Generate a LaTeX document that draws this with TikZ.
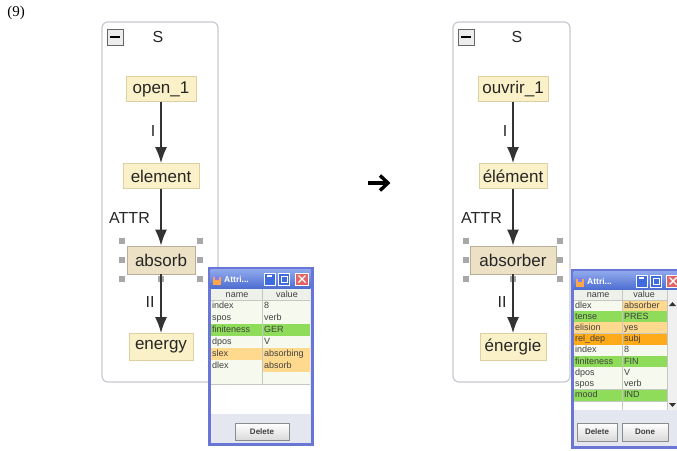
\documentclass[tikz,border=0pt]{standalone}
\usepackage{fontspec}
\setmainfont{Liberation Sans}
\newfontfamily\seriffont{Liberation Serif}
\usetikzlibrary{arrows.meta}

\definecolor{panelline}{HTML}{C8CAD2}
\definecolor{lexfill}{HTML}{FBF1C8}
\definecolor{lexline}{HTML}{DDD0A0}
\definecolor{selfill}{HTML}{EDE1C5}
\definecolor{selline}{HTML}{B8AE98}
\definecolor{handlefill}{HTML}{A8A8A8}
\definecolor{winframe}{HTML}{6A76D6}
\definecolor{bartop}{HTML}{8FA8EC}
\definecolor{barbot}{HTML}{4E6FD2}
\definecolor{btnblue}{HTML}{3E6BDD}
\definecolor{btnred}{HTML}{E26464}
\definecolor{rowW}{HTML}{F5F9EE}
\definecolor{grn}{HTML}{8EDC5A}
\definecolor{lor}{HTML}{FFD98E}
\definecolor{dor}{HTML}{FFAA18}
\definecolor{hdr}{HTML}{EEF0EA}
\definecolor{grid}{HTML}{C4C8C0}
\definecolor{btnpanel}{HTML}{E4E7EF}

\begin{document}
\begin{tikzpicture}[x=1pt,y=-1pt,
  panel/.style={draw=panelline, line width=1.2pt, rounded corners=6pt, fill=white},
  lex/.style={draw=lexline, line width=0.6pt, fill=lexfill, inner sep=0pt,
    font=\fontsize{17}{17}\selectfont, text=black!85},
  sel/.style={lex, fill=selfill, draw=selline},
  rel/.style={draw=black!80, line width=1.9pt, -{Latex[length=16pt,width=12pt]}},
  rellabel/.style={font=\fontsize{16}{16}\selectfont, text=black!85, inner sep=0pt},
  handle/.style={fill=handlefill, minimum size=5.5pt, inner sep=0pt},
  minusbox/.style={draw=black!60, fill=black!7, line width=0.8pt, minimum size=16pt, inner sep=0pt},
  cell/.style={font=\fontsize{9}{9}\selectfont, text=black!75, inner sep=0pt,
    text height=6.5pt, text depth=2pt},
  wintitle/.style={font=\bfseries\fontsize{8.5}{8.5}\selectfont, text=white, inner sep=0pt},
  btn/.style={draw=black!45, line width=0.5pt, top color=white, bottom color=black!15,
    font=\bfseries\fontsize{8}{8}\selectfont, text=black!75, inner sep=0pt},
  tbtn/.style={draw=white, line width=0.6pt, fill=btnblue, minimum width=11pt, minimum height=12pt, inner sep=0pt}
]
\useasboundingbox (0,0) rectangle (677,450);
\fill[white] (0,0) rectangle (677,450);

% example number
\node[font=\seriffont\fontsize{15}{15}\selectfont, inner sep=0pt] (num) at (16,13) {(9)};

% ---------- left tree ----------
\draw[panel] (102,22) rectangle (218,382);
\node[minusbox] (minL) at (115,37) {};
\draw[line width=2.2pt] ([xshift=-5pt]minL.center) -- ([xshift=5pt]minL.center);
\node[rellabel] (catL) at (158,37) {S};

\node[lex, minimum width=70pt, minimum height=25pt] (openL) at (161,89) {open\_1};
\node[lex, minimum width=76pt, minimum height=25pt] (elemL) at (161,176) {element};
\node[sel, minimum width=68pt, minimum height=28pt] (absL) at (161,260) {absorb};
\node[lex, minimum width=64pt, minimum height=27pt] (enL) at (161,347) {energy};

\foreach \hx/\hy [count=\k] in {122/241, 122/260, 122/279, 200/241, 200/260, 200/279, 161/279}
  \node[handle] (hL\k) at (\hx,\hy) {};

\draw[rel] (openL.south) -- (openL.south |- elemL.north);
\draw[rel] (elemL.south) -- (elemL.south |- absL.north);
\draw[rel] (absL.south) -- (absL.south |- enL.north);
\node[rellabel] (lIL) at (153,131) {I};
\node[rellabel, anchor=east] (lAL) at (150,218) {ATTR};
\node[rellabel] (lIIL) at (150,302) {II};

% ---------- middle arrow ----------
\coordinate (arA) at (368,183);
\coordinate (arB) at (388,183);
\draw[line width=3.8pt] (arA) -- ([xshift=-3pt]arB);
\draw[line width=3.4pt, miter limit=10] ([xshift=-8pt,yshift=-7.5pt]arB) -- (arB) -- ([xshift=-8pt,yshift=7.5pt]arB);

% ---------- right tree ----------
\draw[panel] (453,22) rectangle (570,382);
\node[minusbox] (minR) at (466,37) {};
\draw[line width=2.2pt] ([xshift=-5pt]minR.center) -- ([xshift=5pt]minR.center);
\node[rellabel] (catR) at (517,37) {S};

\node[lex, minimum width=70pt, minimum height=25pt] (openR) at (513,89) {ouvrir\_1};
\node[lex, minimum width=68pt, minimum height=25pt] (elemR) at (513,176) {élément};
\node[sel, minimum width=86pt, minimum height=28pt] (absR) at (513,260) {absorber};
\node[lex, minimum width=66pt, minimum height=27pt] (enR) at (513,347) {énergie};

\foreach \hx/\hy [count=\k] in {466/241, 466/260, 466/279, 560/241, 560/260, 560/279, 513/279}
  \node[handle] (hR\k) at (\hx,\hy) {};

\draw[rel] (openR.south) -- (openR.south |- elemR.north);
\draw[rel] (elemR.south) -- (elemR.south |- absR.north);
\draw[rel] (absR.south) -- (absR.south |- enR.north);
\node[rellabel] (lIR) at (505,131) {I};
\node[rellabel, anchor=east] (lAR) at (502,218) {ATTR};
\node[rellabel] (lIIR) at (502,302) {II};

% ---------- left attribute window ----------
\draw[winframe, line width=3pt, fill=btnpanel] (209,268) rectangle (312,444);
\shade[top color=bartop, bottom color=barbot] (210.5,269.5) rectangle (310.5,288);
\fill[orange!70] (213,277) rectangle (221,285);
\fill[blue!50] (215,276) rectangle (219,280);
\node[wintitle, anchor=west] (tL) at (224,279) {Attri...};
\node[tbtn] (minbL) at (270,279) {};
\draw[white, line width=1.2pt] ([xshift=-3pt,yshift=3pt]minbL.center) -- ([xshift=2pt,yshift=3pt]minbL.center);
\node[tbtn] (maxbL) at (284,279) {};
\draw[white, line width=0.9pt] ([xshift=-3pt,yshift=-3pt]maxbL.center) rectangle ([xshift=3pt,yshift=3pt]maxbL.center);
\node[tbtn, fill=btnred, minimum width=13pt] (clsL) at (302,279) {};
\draw[white, line width=1.4pt] ([xshift=-3.5pt,yshift=-3.5pt]clsL.center) -- ([xshift=3.5pt,yshift=3.5pt]clsL.center)
  ([xshift=-3.5pt,yshift=3.5pt]clsL.center) -- ([xshift=3.5pt,yshift=-3.5pt]clsL.center);

\fill[white] (211,289) rectangle (310,414);
\fill[hdr] (211,289) rectangle (310,300);
\node[cell] (hnL) at (237,295) {name};
\node[cell] (hvL) at (287,295) {value};
\foreach \n/\v/\cn/\cv [count=\i] in {index/8/rowW/rowW, spos/verb/rowW/rowW,
    finiteness/GER/grn/grn, dpos/V/rowW/rowW, slex/absorbing/lor/lor,
    dlex/absorb/rowW/lor, /{}/rowW/rowW} {
  \pgfmathsetmacro\yt{300+(\i-1)*12}
  \fill[\cn] (211,\yt) rectangle (262,\yt+12);
  \fill[\cv] (262,\yt) rectangle (310,\yt+12);
  \draw[grid, line width=0.5pt] (211,\yt+12) -- (310,\yt+12);
  \node[cell, anchor=west] (nL\i) at (212,\yt+6.3) {\n};
  \node[cell, anchor=west] (vL\i) at (264,\yt+6.3) {\v};
}
\draw[grid, line width=0.5pt] (211,300) -- (310,300);
\draw[grid, line width=0.6pt] (262,289) -- (262,384);
\node[btn, minimum width=54pt, minimum height=17pt] (delL) at (262,432) {Delete};

% ---------- right attribute window ----------
\begin{scope}
\clip (0,0) rectangle (677,450);
\draw[winframe, line width=3pt, fill=btnpanel] (572,270) rectangle (684,447);
\shade[top color=bartop, bottom color=barbot] (573.5,271.5) rectangle (684,289);
\fill[orange!70] (576,279) rectangle (584,287);
\fill[blue!50] (578,278) rectangle (582,282);
\node[wintitle, anchor=west] (tR) at (587,281) {Attri...};
\node[tbtn] (minbR) at (642,281) {};
\draw[white, line width=1.2pt] ([xshift=-3pt,yshift=3pt]minbR.center) -- ([xshift=2pt,yshift=3pt]minbR.center);
\node[tbtn] (maxbR) at (656,281) {};
\draw[white, line width=0.9pt] ([xshift=-3pt,yshift=-3pt]maxbR.center) rectangle ([xshift=3pt,yshift=3pt]maxbR.center);
\node[tbtn, fill=btnred, minimum width=13pt] (clsR) at (673,281) {};
\draw[white, line width=1.4pt] ([xshift=-3.5pt,yshift=-3.5pt]clsR.center) -- ([xshift=3.5pt,yshift=3.5pt]clsR.center)
  ([xshift=-3.5pt,yshift=3.5pt]clsR.center) -- ([xshift=3.5pt,yshift=-3.5pt]clsR.center);

\fill[white] (574,290) rectangle (684,410);
\fill[hdr] (574,290) rectangle (667,300);
\node[cell] (hnR) at (598,295.5) {name};
\node[cell] (hvR) at (644,295.5) {value};
\foreach \n/\v/\cn/\cv [count=\i] in {dlex/absorber/rowW/lor, tense/PRES/grn/grn,
    elision/yes/lor/lor, rel\_dep/subj/dor/dor, index/8/rowW/rowW,
    finiteness/FIN/grn/grn, dpos/V/rowW/rowW, spos/verb/rowW/rowW, mood/IND/grn/grn} {
  \pgfmathsetmacro\yt{300+(\i-1)*11.2}
  \fill[\cn] (574,\yt) rectangle (622,\yt+11.2);
  \fill[\cv] (622,\yt) rectangle (667,\yt+11.2);
  \draw[grid, line width=0.5pt] (574,\yt+11.2) -- (667,\yt+11.2);
  \node[cell, anchor=west] (nR\i) at (575,\yt+5.8) {\n};
  \node[cell, anchor=west] (vR\i) at (624,\yt+5.8) {\v};
}
\draw[grid, line width=0.5pt] (574,300) -- (667,300);
\draw[grid, line width=0.6pt] (622,290) -- (622,410);
\fill[black!6] (667,290) rectangle (684,410);
\draw[grid, line width=0.5pt] (667,290) -- (667,410);
\fill[black!80] (672.5,302) -- (676,306) -- (669,306) -- cycle;
\fill[black!80] (672.5,407) -- (676,403) -- (669,403) -- cycle;
\node[btn, minimum width=40pt, minimum height=18pt] (delR) at (597,432) {Delete};
\node[btn, minimum width=46pt, minimum height=18pt] (doneR) at (645,432) {Done};
\end{scope}
\end{tikzpicture}
\end{document}
